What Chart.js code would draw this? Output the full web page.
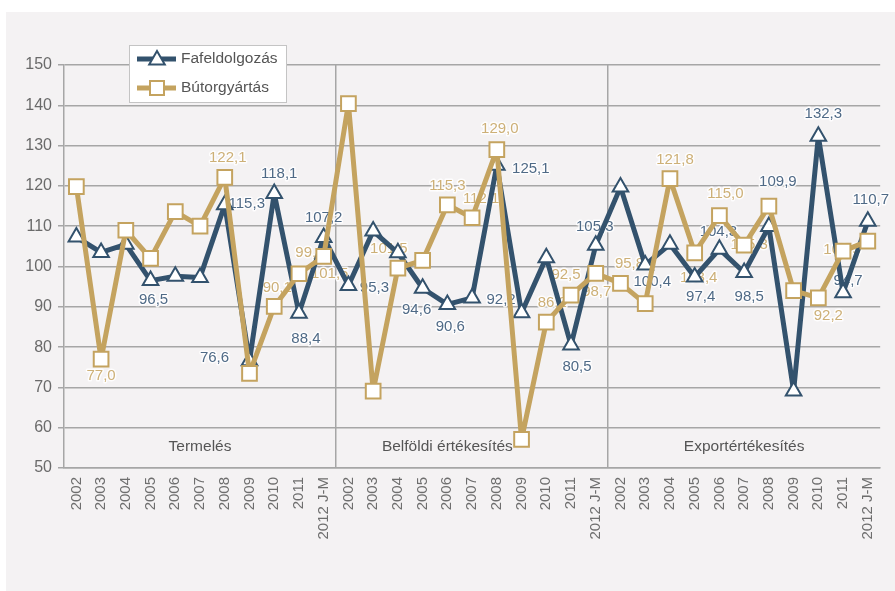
<!DOCTYPE html>
<html>
<head>
<meta charset="utf-8">
<script src="https://cdn.jsdelivr.net/npm/chart.js@4.4.1/dist/chart.umd.min.js"></script>
<style>
html, body { margin: 0; padding: 0; background: #ffffff; }
#wrap { width: 895px; height: 591px; position: relative; }
</style>
</head>
<body>
<div id="wrap"><canvas id="c" width="895" height="591"></canvas></div>
<script>
// ---- data ----
const years = ['2002', '2003', '2004', '2005', '2006', '2007', '2008', '2009', '2010', '2011', '2012 J-M'];
const panels = ['Termelés', 'Belföldi értékesítés', 'Exportértékesítés'];
const seriesNames = ['Fafeldolgozás', 'Bútorgyártás'];

const fafTermeles  = [107.3, 103.5, 105.5, 96.5, 97.6, 97.3, 115.3, 76.6, 118.1, 88.4, 107.2];
const fafBelfoldi  = [95.3, 108.8, 103.4, 94.6, 90.6, 92.2, 125.1, 88.5, 102.2, 80.5, 105.3];
const fafExport    = [119.7, 100.4, 105.5, 97.4, 104.3, 98.5, 109.9, 69.1, 132.3, 93.5, 111.2];

const butTermeles  = [119.8, 77.0, 109.0, 102.0, 113.6, 110.0, 122.1, 73.5, 90.1, 98.2, 102.5];
const butBelfoldi  = [140.4, 69.1, 99.6, 101.5, 115.3, 112.1, 129.0, 57.1, 86.2, 92.9, 98.3];
const butExport    = [95.8, 90.8, 121.8, 103.4, 112.6, 105.3, 115.0, 94.0, 92.2, 103.8, 106.3];

// data label texts as printed in the picture (null = no label)
const fafLabelTexts = [
  null, null, null, '96,5', null, null, '115,3', '76,6', '118,1', '88,4', '107,2',
  '95,3', null, null, '94,6', '90,6', '92,2', '125,1', null, null, '80,5', '105,3',
  null, '100,4', null, '97,4', '104,3', '98,5', '109,9', null, '132,3', '94,7', '110,7'
];
const butLabelTexts = [
  null, '77,0', null, null, null, null, '122,1', null, '90,1', '99,0', '101,5',
  null, null, '101,5', null, '115,3', '112,1', '129,0', null, '86,2', '92,5', '98,7',
  '95,8', null, '121,8', '103,4', '115,0', '105,3', null, null, '92,2', '102,5', null
];

// ---- layout of the data labels (offsets from their point, px) ----
const fafLabelOffsets = [
  null, null, null, [3, 19], null, null, [22, -1], [-35, -3], [5, -20], [7, 26], [0, -20],
  [26, 2], null, null, [-6, 22], [3, 22], [29, 2], [34, 4], null, null, [6, 22], [-1, -18],
  null, [7, 17], null, [6, 20], [-1, -17], [5, 24], [9, -45], null, [5, -22], [5, -12], [3, -22]
];
const butLabelOffsets = [
  null, [0, 17], null, null, null, null, [3, -20], null, [3, -19], [11, -21], [6, 17],
  null, null, [-9, -19], null, [0, -19], [9, -19], [3, -21], null, [6, -19], [-5, -20], [1, 19],
  [9, -20], null, [5, -19], [4, 25], [6, -22], [5, 0], null, null, [10, 18], [-1, -1], null
];
const panelTitleAnchors = [5, 15, 27];

const categories = panels.flatMap(() => years);
const fafeldolgozas = [...fafTermeles, ...fafBelfoldi, ...fafExport];
const butorgyartas = [...butTermeles, ...butBelfoldi, ...butExport];

const BLUE = '#33526d';
const GOLD = '#c4a35f';
const BLUE_TXT = '#4f6a86';
const GOLD_TXT = '#cdb077';
const GRID = '#a6a6a6';
const FONT = '"Liberation Sans", Arial, sans-serif';

const bgPlugin = {
  id: 'bg',
  beforeDraw(chart) {
    const ctx = chart.ctx;
    ctx.save();
    ctx.fillStyle = '#ffffff';
    ctx.fillRect(0, 0, chart.width, chart.height);
    ctx.fillStyle = '#f4f2f3';
    ctx.fillRect(6, 12, chart.width - 6, chart.height - 12);
    ctx.restore();
  }
};

const labelPlugin = {
  id: 'labels',
  beforeDatasetsDraw(chart) {
    const ctx = chart.ctx;
    const xs = chart.scales.x;
    ctx.save();
    // panel titles
    ctx.font = '15.5px ' + FONT;
    ctx.fillStyle = '#555555';
    ctx.textAlign = 'center';
    ctx.textBaseline = 'middle';
    panels.forEach((p, k) => {
      ctx.fillText(p, xs.getPixelForValue(panelTitleAnchors[k]), 447);
    });
    // data labels
    ctx.font = '15px ' + FONT;
    ctx.lineJoin = 'round';
    const sets = [
      { ds: 0, texts: fafLabelTexts, offs: fafLabelOffsets, color: BLUE_TXT },
      { ds: 1, texts: butLabelTexts, offs: butLabelOffsets, color: GOLD_TXT }
    ];
    sets.forEach(s => {
      const meta = chart.getDatasetMeta(s.ds);
      s.texts.forEach((t, i) => {
        if (!t) return;
        const p = meta.data[i];
        const o = s.offs[i] || [0, -19];
        const x = p.x + o[0], y = p.y + o[1];
        ctx.strokeStyle = 'rgba(255,255,255,0.85)';
        ctx.lineWidth = 3;
        ctx.strokeText(t, x, y);
        ctx.fillStyle = s.color;
        ctx.fillText(t, x, y);
      });
    });
    ctx.restore();
  }
};

function drawTri(ctx, x, y, r, color) {
  ctx.beginPath();
  ctx.moveTo(x, y - r);
  ctx.lineTo(x + r * Math.sqrt(3) / 2, y + r / 2);
  ctx.lineTo(x - r * Math.sqrt(3) / 2, y + r / 2);
  ctx.closePath();
  ctx.fillStyle = '#fff';
  ctx.fill();
  ctx.lineWidth = 2;
  ctx.strokeStyle = color;
  ctx.stroke();
}
function drawSq(ctx, x, y, s, color) {
  ctx.fillStyle = '#fff';
  ctx.fillRect(x - s / 2, y - s / 2, s, s);
  ctx.lineWidth = 2;
  ctx.strokeStyle = color;
  ctx.strokeRect(x - s / 2, y - s / 2, s, s);
}

const legendPlugin = {
  id: 'customLegend',
  afterDraw(chart) {
    const ctx = chart.ctx;
    ctx.save();
    ctx.fillStyle = '#ffffff';
    ctx.fillRect(129.5, 45.5, 157, 57);
    ctx.strokeStyle = '#c4c4c4';
    ctx.lineWidth = 1;
    ctx.strokeRect(129.5, 45.5, 157, 57);
    const entries = [
      { y: 59, color: BLUE, shape: 'tri', name: seriesNames[0] },
      { y: 88, color: GOLD, shape: 'sq', name: seriesNames[1] }
    ];
    entries.forEach(e => {
      ctx.strokeStyle = e.color;
      ctx.lineWidth = 5;
      ctx.beginPath();
      ctx.moveTo(137, e.y);
      ctx.lineTo(176, e.y);
      ctx.stroke();
      if (e.shape === 'tri') drawTri(ctx, 157, e.y + 1, 9, e.color);
      else drawSq(ctx, 157, e.y, 14, e.color);
      ctx.fillStyle = '#555555';
      ctx.font = '15.5px ' + FONT;
      ctx.textAlign = 'left';
      ctx.textBaseline = 'middle';
      ctx.fillText(e.name, 181, e.y);
    });
    ctx.restore();
  }
};

new Chart(document.getElementById('c'), {
  type: 'line',
  data: {
    labels: categories,
    datasets: [
      {
        label: seriesNames[0],
        data: fafeldolgozas,
        borderColor: BLUE,
        borderWidth: 5,
        borderJoinStyle: 'round',
        borderCapStyle: 'round',
        tension: 0,
        pointStyle: 'triangle',
        pointRadius: 9,
        pointBackgroundColor: '#ffffff',
        pointBorderColor: BLUE,
        pointBorderWidth: 2,
        order: 1
      },
      {
        label: seriesNames[1],
        data: butorgyartas,
        borderColor: GOLD,
        borderWidth: 5,
        borderJoinStyle: 'round',
        borderCapStyle: 'round',
        tension: 0,
        pointStyle: 'rect',
        pointRadius: 10.4,
        pointBackgroundColor: '#ffffff',
        pointBorderColor: GOLD,
        pointBorderWidth: 2,
        order: 0
      }
    ]
  },
  options: {
    responsive: false,
    animation: false,
    events: [],
    layout: { padding: { top: 65, right: 5, left: 0, bottom: 0 } },
    plugins: { legend: { display: false }, tooltip: { enabled: false } },
    scales: {
      x: {
        type: 'category',
        offset: true,
        afterFit(s) { s.height = 123; },
        grid: {
          offset: true,
          drawTicks: false,
          lineWidth: 1.5,
          color: c => (c.index === 11 || c.index === 22) ? GRID : 'rgba(0,0,0,0)'
        },
        border: { display: true, color: GRID, width: 1.5 },
        ticks: {
          autoSkip: false,
          maxRotation: 90,
          minRotation: 90,
          padding: 9,
          color: '#6e6e6e',
          font: { family: FONT, size: 15 }
        }
      },
      y: {
        min: 50,
        max: 150,
        afterFit(s) { s.width = 64; },
        grid: { color: GRID, lineWidth: 1.5, tickLength: 6 },
        border: { display: true, color: GRID, width: 1.5 },
        ticks: {
          stepSize: 10,
          padding: 6,
          color: '#6a6a6a',
          font: { family: FONT, size: 16 }
        }
      }
    }
  },
  plugins: [bgPlugin, labelPlugin, legendPlugin]
});
</script>
</body>
</html>
